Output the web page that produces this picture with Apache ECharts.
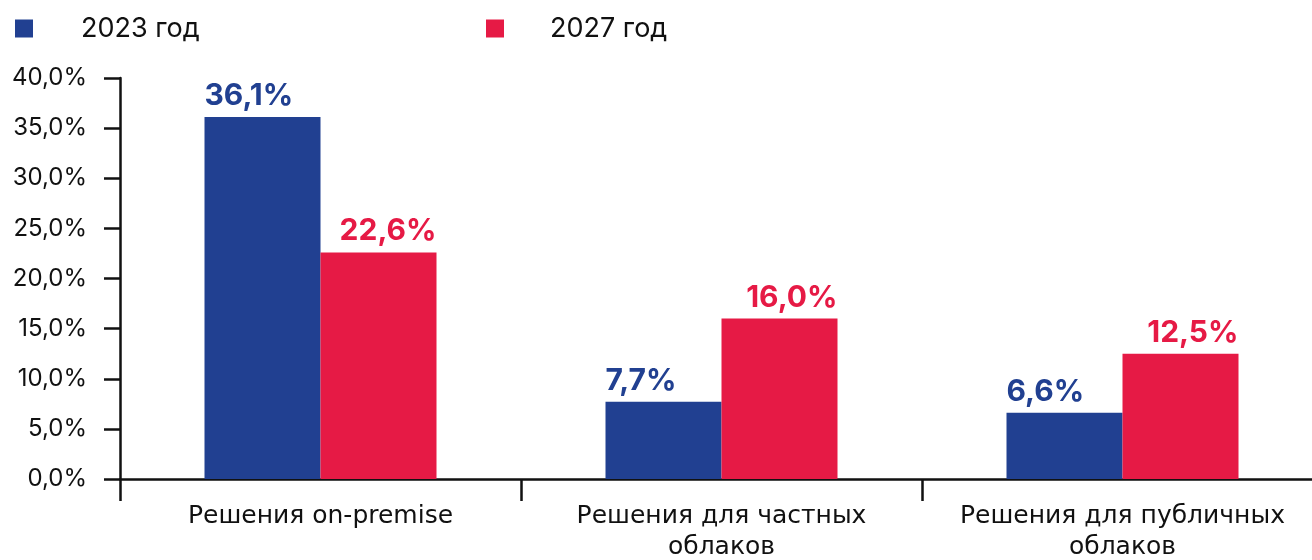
<!DOCTYPE html>
<html>
<head>
<meta charset="utf-8">
<script src="https://cdn.jsdelivr.net/npm/echarts@6/dist/echarts.min.js"></script>
<style>
  html, body { margin: 0; padding: 0; background: #fff; }
  #chart { width: 1312px; height: 560px; }
</style>
</head>
<body>
<div id="chart"></div>
<script>
const categories = ['Решения on-premise', 'Решения для частных\nоблаков', 'Решения для публичных\nоблаков'];
const seriesNames = ['2023 год', '2027 год'];
const values2023 = [36.1, 7.7, 6.6];
const values2027 = [22.6, 16.0, 12.5];
const yTicks = { min: 0, max: 40, interval: 5 };

const BLUE = '#214091';
const RED = '#E61A45';
const FONT = 'Inter';
const CAT_FONT = 'DejaVu Sans';
const fmt = v => v.toFixed(1).replace('.', ',') + '%';

const chart = echarts.init(document.getElementById('chart'), null, { renderer: 'canvas' });
chart.setOption({
  animation: false,
  textStyle: { fontFamily: FONT },
  legend: [
    {
      data: [seriesNames[0]], left: 10, top: 10, itemWidth: 18, itemHeight: 18,
      icon: 'rect',
      textStyle: { fontFamily: FONT, fontSize: 27, color: '#111', padding: [0, 0, 0, 43] }
    },
    {
      data: [seriesNames[1]], left: 481, top: 10, itemWidth: 18, itemHeight: 18,
      icon: 'rect',
      textStyle: { fontFamily: FONT, fontSize: 27, color: '#111', padding: [0, 0, 0, 41] }
    }
  ],
  grid: { left: 120, top: 78, bottom: 81, width: 1203, containLabel: false, outerBoundsMode: 'none' },
  xAxis: {
    type: 'category',
    data: categories,
    boundaryGap: true,
    axisLine: { lineStyle: { color: '#111', width: 2.5 } },
    axisTick: { show: true, length: 22, lineStyle: { color: '#111', width: 2.5 } },
    axisLabel: {
      fontFamily: CAT_FONT, fontSize: 25, color: '#111', margin: 22, lineHeight: 31,
      interval: 0
    }
  },
  yAxis: {
    type: 'value',
    min: yTicks.min, max: yTicks.max, interval: yTicks.interval,
    splitLine: { show: false },
    axisLine: { show: true, lineStyle: { color: '#111', width: 2.5 } },
    axisTick: { show: true, length: 16, lineStyle: { color: '#111', width: 2.5 } },
    axisLabel: {
      fontFamily: FONT, fontSize: 24, color: '#111', margin: 33,
      formatter: v => fmt(v)
    }
  },
  series: [
    {
      name: seriesNames[0], type: 'bar', data: values2023,
      barWidth: 116, barGap: '0%',
      itemStyle: { color: BLUE },
      label: {
        show: true, position: [0, -6], align: 'left', verticalAlign: 'bottom',
        formatter: p => fmt(p.value),
        fontFamily: FONT, fontWeight: 'bold', fontSize: 30, color: BLUE
      }
    },
    {
      name: seriesNames[1], type: 'bar', data: values2027,
      barWidth: 116, barGap: '0%',
      itemStyle: { color: RED },
      label: {
        show: true, position: ['100%', -6], align: 'right', verticalAlign: 'bottom',
        formatter: p => fmt(p.value),
        fontFamily: FONT, fontWeight: 'bold', fontSize: 30, color: RED
      }
    }
  ]
});
</script>
</body>
</html>
